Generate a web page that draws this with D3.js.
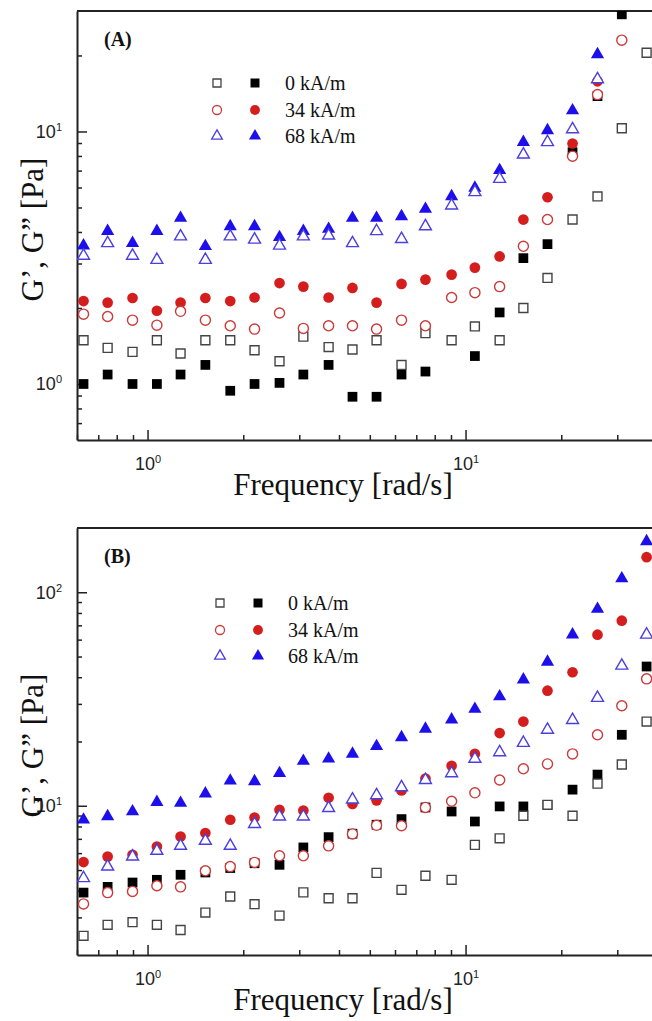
<!DOCTYPE html>
<html>
<head>
<meta charset="utf-8">
<script src="https://cdn.jsdelivr.net/npm/d3@7"></script>
<style>
  body { margin: 0; background: #fff; }
</style>
</head>
<body>
<script>
// angular frequency of each measured point, rad/s
const freq = [0.629, 0.749, 0.897, 1.07, 1.27, 1.52, 1.82, 2.17, 2.6, 3.09, 3.71, 4.41,
              5.25, 6.29, 7.48, 9.04, 10.7, 12.8, 15.2, 18.1, 21.7, 26.0, 31.0, 37.1];

const fieldLabels = ["0 kA/m", "34 kA/m", "68 kA/m"];

// panel (A)
const aFilled0 = [1.00, 1.09, 1.00, 1.00, 1.09, 1.19, 0.94, 1.00, 1.01, 1.09, 1.19, 0.89,
                  0.89, 1.09, 1.12, null, 1.29, 1.92, 3.15, 3.58, 8.28, 13.8, 29.1, null];
const aOpen0 = [1.49, 1.39, 1.34, 1.49, 1.32, 1.49, 1.49, 1.36, 1.23, 1.54, 1.40, 1.37,
                1.49, 1.19, 1.59, 1.49, 1.69, 1.49, 2.00, 2.63, 4.48, 5.53, 10.3, 20.5];
const aFilled34 = [2.13, 2.10, 2.19, 1.95, 2.10, 2.19, 2.13, 2.20, 2.51, 2.43, 2.20, 2.40,
                   2.10, 2.49, 2.59, 2.71, 2.89, 3.20, 4.48, 5.49, 8.96, 15.8, null, null];
const aOpen34 = [1.89, 1.85, 1.79, 1.71, 1.94, 1.79, 1.70, 1.65, 1.91, 1.66, 1.70, 1.70,
                 1.65, 1.79, 1.70, 2.20, 2.30, 2.43, 3.51, 4.48, 7.98, 14.0, 23.0, null];
const aFilled68 = [3.53, 4.03, 3.61, 4.03, 4.54, 3.51, 4.21, 4.21, 3.81, 4.03, 4.11, 4.54,
                   4.54, 4.61, 4.93, 5.53, 5.98, 7.02, 9.07, 10.1, 12.1, 20.2, null, null];
const aOpen68 = [3.22, 3.61, 3.22, 3.10, 3.84, 3.10, 3.84, 3.73, 3.53, 3.84, 3.87, 3.61,
                 4.03, 3.75, 4.21, 5.09, 5.75, 6.49, 8.10, 9.07, 10.2, 16.1, null, null];

// panel (B)
const bFilled0 = [3.92, 4.17, 4.37, 4.50, 4.75, 4.87, 5.11, 5.38, 5.29, 6.38, 7.13, 7.40,
                  8.15, 8.66, 9.82, 9.40, 8.44, 9.93, 9.93, 10.1, 11.9, 14.0, 21.5, 44.9];
const bOpen0 = [2.46, 2.77, 2.85, 2.77, 2.62, 3.16, 3.76, 3.46, 3.06, 3.93, 3.69, 3.69,
                4.85, 4.04, 4.70, 4.50, 6.56, 7.04, 8.98, 10.1, 8.98, 12.7, 15.6, 24.8];
const bFilled34 = [5.45, 5.78, 5.89, 6.44, 7.18, 7.45, 8.60, 8.81, 9.58, 9.50, 10.9, 10.2,
                   10.6, 11.8, 13.4, 15.4, 17.5, 21.9, 24.8, 34.6, 42.2, 63.3, 73.6, 146];
const bOpen34 = [3.47, 3.92, 3.97, 4.22, 4.17, 4.96, 5.19, 5.43, 5.83, 5.83, 6.49, 7.38,
                 8.10, 8.06, 9.82, 10.5, 11.5, 13.2, 14.9, 15.7, 17.5, 21.5, 29.4, 39.3];
const bFilled68 = [8.60, 8.91, 9.40, 10.4, 10.3, 11.4, 13.1, 13.0, 14.2, 16.2, 16.6, 17.5,
                   19.0, 20.9, 22.9, 25.3, 28.4, 32.5, 39.0, 47.2, 63.3, 83.5, 116, 173];
const bOpen68 = [4.58, 5.19, 5.78, 6.15, 6.49, 6.85, 6.49, 8.21, 8.91, 8.91, 9.75, 10.7,
                 11.2, 12.2, 13.2, 14.2, 16.6, 17.8, 19.7, 22.7, 25.2, 32.0, 45.3, 63.3];

const W = 652, H = 1021;
const axisColor = "#222";

// marker styles: [shape, filled colour, open stroke colour]
const styles = [
  { shape: d3.symbolSquare, fill: "#000", stroke: "#444", size: 95, openSize: 80 },
  { shape: d3.symbolCircle, fill: "#d41e1e", stroke: "#cc3a3a", size: 90, openSize: 80 },
  { shape: d3.symbolTriangle, fill: "#1c0fec", stroke: "#4a3fe0", size: 75, openSize: 62 }
];

const svg = d3.select("body").append("svg")
  .attr("width", W)
  .attr("height", H)
  .style("font-family", "'Liberation Serif', 'Times New Roman', serif");

const x = d3.scaleLog().domain([0.6, 40]).range([77, 657]);

function powLabel(sel, exp) {
  sel.append("tspan").text("10");
  sel.append("tspan")
    .attr("dy", -7)
    .style("font-size", "11px")
    .text(exp);
}

function drawPanel(cfg) {
  const y = d3.scaleLog().domain(cfg.yDomain).range([cfg.bottom, cfg.top]);
  const g = svg.append("g");

  const clipId = "clip" + cfg.tag;
  svg.append("defs").append("clipPath").attr("id", clipId)
    .append("rect")
    .attr("x", 77).attr("y", cfg.top)
    .attr("width", W - 77).attr("height", cfg.bottom - cfg.top);

  // minor + major ticks
  const xTicks = [];
  for (let e = -1; e <= 1; e++) {
    for (let m = 1; m <= 9; m++) {
      const v = m * Math.pow(10, e);
      if (v >= 0.6 && v <= 40) xTicks.push(v);
    }
  }
  const yTicks = [];
  const [y0, y1] = cfg.yDomain;
  for (let e = -1; e <= 3; e++) {
    for (let m = 1; m <= 9; m++) {
      const v = m * Math.pow(10, e);
      if (v >= y0 * 1.001 && v <= y1 * 0.999) yTicks.push(v);
    }
  }
  const isMajor = v => Math.abs(Math.log10(v) - Math.round(Math.log10(v))) < 1e-6;

  const xAxis = g.append("g")
    .attr("transform", `translate(0,${cfg.bottom})`)
    .call(d3.axisBottom(x).tickValues(xTicks).tickSizeInner(-10).tickSizeOuter(0).tickFormat(""));
  xAxis.select(".domain").attr("stroke", axisColor).attr("stroke-width", 2);
  xAxis.selectAll(".tick line")
    .attr("stroke", axisColor).attr("stroke-width", 1.5)
    .attr("y2", d => isMajor(d) ? -10 : -5);
  xAxis.selectAll(".tick").filter(d => isMajor(d))
    .append("text")
    .attr("y", 30)
    .attr("x", 0)
    .attr("text-anchor", "middle")
    .attr("fill", "#222")
    .style("font-size", "18px")
    .each(function(d) { powLabel(d3.select(this), Math.round(Math.log10(d))); });

  const yAxis = g.append("g")
    .attr("transform", "translate(77,0)")
    .call(d3.axisLeft(y).tickValues(yTicks).tickSizeInner(-10).tickSizeOuter(0).tickFormat(""));
  yAxis.select(".domain").attr("stroke", axisColor).attr("stroke-width", 2);
  yAxis.selectAll(".tick line")
    .attr("stroke", axisColor).attr("stroke-width", 1.5)
    .attr("x2", d => isMajor(d) ? 10 : 5);
  yAxis.selectAll(".tick").filter(d => isMajor(d))
    .append("text")
    .attr("x", -15)
    .attr("y", 6)
    .attr("text-anchor", "end")
    .attr("fill", "#222")
    .style("font-size", "18px")
    .each(function(d) { powLabel(d3.select(this), Math.round(Math.log10(d))); });

  // top frame line
  g.append("line")
    .attr("x1", 77).attr("x2", W)
    .attr("y1", cfg.top).attr("y2", cfg.top)
    .attr("stroke", axisColor).attr("stroke-width", 2);

  // axis titles
  g.append("text")
    .attr("x", 343)
    .attr("y", cfg.bottom + 55)
    .attr("text-anchor", "middle")
    .style("font-size", "31px")
    .attr("fill", "#111")
    .text("Frequency [rad/s]");

  g.append("text")
    .attr("transform", `translate(43,${(cfg.top + cfg.bottom) / 2 + 4}) rotate(-90)`)
    .attr("text-anchor", "middle")
    .style("font-size", "31px")
    .attr("fill", "#111")
    .text("G\u2019, G\u201D [Pa]");

  g.append("text")
    .attr("x", 104)
    .attr("y", cfg.top + 35)
    .style("font-size", "20px")
    .style("font-weight", "bold")
    .attr("fill", "#111")
    .text(cfg.tag === "A" ? "(A)" : "(B)");

  // data
  const marks = g.append("g").attr("clip-path", `url(#${clipId})`);
  cfg.series.forEach((pair, i) => {
    const st = styles[i];
    const [filledVals, openVals] = pair;
    const filledPts = freq.map((f, k) => ({ f, v: filledVals[k] })).filter(d => d.v != null);
    const openPts = freq.map((f, k) => ({ f, v: openVals[k] })).filter(d => d.v != null);

    marks.selectAll(null).data(filledPts).enter()
      .append("path")
      .attr("d", d3.symbol().type(st.shape).size(st.size))
      .attr("transform", d => `translate(${x(d.f)},${y(d.v)})`)
      .attr("fill", st.fill);

    marks.selectAll(null).data(openPts).enter()
      .append("path")
      .attr("d", d3.symbol().type(st.shape).size(st.openSize))
      .attr("transform", d => `translate(${x(d.f)},${y(d.v)})`)
      .attr("fill", "#fff")
      .attr("stroke", st.stroke)
      .attr("stroke-width", 1.4);
  });

  // legend
  const lg = g.append("g");
  fieldLabels.forEach((lab, i) => {
    const st = styles[i];
    const ry = cfg.legendY[i];
    lg.append("path")
      .attr("d", d3.symbol().type(st.shape).size(st.openSize * 0.8))
      .attr("transform", `translate(${cfg.legendX},${ry})`)
      .attr("fill", "#fff")
      .attr("stroke", st.stroke)
      .attr("stroke-width", 1.3);
    lg.append("path")
      .attr("d", d3.symbol().type(st.shape).size(st.size * 0.85))
      .attr("transform", `translate(${cfg.legendX + 38},${ry})`)
      .attr("fill", st.fill);
    lg.append("text")
      .attr("x", cfg.legendX + 68)
      .attr("y", ry + 7)
      .style("font-size", "20px")
      .attr("fill", "#111")
      .text(lab);
  });
}

drawPanel({
  tag: "A",
  top: 11,
  bottom: 440,
  yDomain: [0.6, 30],
  legendX: 217,
  legendY: [83, 110, 136],
  series: [[aFilled0, aOpen0], [aFilled34, aOpen34], [aFilled68, aOpen68]]
});

drawPanel({
  tag: "B",
  top: 528,
  bottom: 955,
  yDomain: [2, 200],
  legendX: 220,
  legendY: [603, 630, 656],
  series: [[bFilled0, bOpen0], [bFilled34, bOpen34], [bFilled68, bOpen68]]
});
</script>
</body>
</html>
